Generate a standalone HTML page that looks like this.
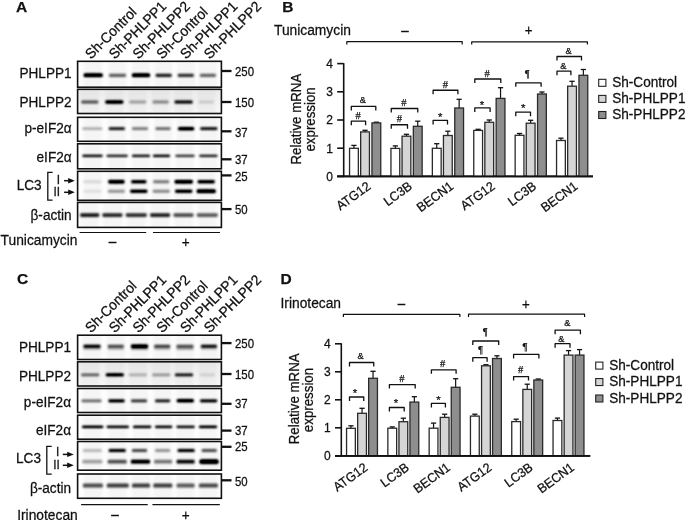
<!DOCTYPE html><html><head><meta charset="utf-8"><style>html,body{margin:0;padding:0;background:#fff;width:685px;height:520px;overflow:hidden}svg{display:block;filter:blur(0.35px)}</style></head><body><svg width="685" height="520" viewBox="0 0 685 520">
<defs><filter id="blur" x="-20%" y="-200%" width="140%" height="500%"><feGaussianBlur stdDeviation="1.2 0.8"/><feComponentTransfer><feFuncA type="linear" slope="1.3"/></feComponentTransfer></filter><filter id="blur2" x="-20%" y="-20%" width="140%" height="140%"><feGaussianBlur stdDeviation="1.5"/></filter><linearGradient id="g2" x1="0" y1="0" x2="0" y2="1"><stop offset="0" stop-color="#e6e6e6"/><stop offset="0.5" stop-color="#eeeeee"/><stop offset="1" stop-color="#f6f6f6"/></linearGradient><linearGradient id="g3" x1="0" y1="0" x2="0" y2="1"><stop offset="0" stop-color="#ebebeb"/><stop offset="0.5" stop-color="#f2f2f2"/><stop offset="1" stop-color="#f8f8f8"/></linearGradient></defs>
<rect width="685" height="520" fill="#fff"/>
<text transform="translate(16.00 11.90)" font-size="15.5" text-anchor="start" font-weight="bold" font-family='"Liberation Sans", sans-serif' fill="#111" stroke="#111" stroke-width="0.25">A</text>
<text transform="translate(90.90 59.80) rotate(-45) scale(1 1.042)" font-size="13.8" text-anchor="start" font-weight="normal" font-family='"Liberation Sans", sans-serif' fill="#111" stroke="#111" stroke-width="0.25">Sh-Control</text>
<text transform="translate(114.65 59.80) rotate(-45) scale(1 1.042)" font-size="13.8" text-anchor="start" font-weight="normal" font-family='"Liberation Sans", sans-serif' fill="#111" stroke="#111" stroke-width="0.25">Sh-PHLPP1</text>
<text transform="translate(138.40 59.80) rotate(-45) scale(1 1.042)" font-size="13.8" text-anchor="start" font-weight="normal" font-family='"Liberation Sans", sans-serif' fill="#111" stroke="#111" stroke-width="0.25">Sh-PHLPP2</text>
<text transform="translate(162.15 59.80) rotate(-45) scale(1 1.042)" font-size="13.8" text-anchor="start" font-weight="normal" font-family='"Liberation Sans", sans-serif' fill="#111" stroke="#111" stroke-width="0.25">Sh-Control</text>
<text transform="translate(185.90 59.80) rotate(-45) scale(1 1.042)" font-size="13.8" text-anchor="start" font-weight="normal" font-family='"Liberation Sans", sans-serif' fill="#111" stroke="#111" stroke-width="0.25">Sh-PHLPP1</text>
<text transform="translate(209.65 59.80) rotate(-45) scale(1 1.042)" font-size="13.8" text-anchor="start" font-weight="normal" font-family='"Liberation Sans", sans-serif' fill="#111" stroke="#111" stroke-width="0.25">Sh-PHLPP2</text>
<clipPath id="c1"><rect x="77.60" y="61.30" width="143.80" height="25.90"/></clipPath>
<g clip-path="url(#c1)">
<rect x="77.6" y="61.3" width="143.8" height="25.900000000000006" fill="#fdfdfd"/>
<g filter="url(#blur2)">
<rect x="84.20" y="59.30" width="18" height="29.90" fill="#000" fill-opacity="0.03"/>
<rect x="108.50" y="59.30" width="18" height="29.90" fill="#000" fill-opacity="0.03"/>
<rect x="132.00" y="59.30" width="18" height="29.90" fill="#000" fill-opacity="0.03"/>
<rect x="154.70" y="59.30" width="18" height="29.90" fill="#000" fill-opacity="0.03"/>
<rect x="176.80" y="59.30" width="18" height="29.90" fill="#000" fill-opacity="0.03"/>
<rect x="198.90" y="59.30" width="18" height="29.90" fill="#000" fill-opacity="0.03"/>
</g>
<g filter="url(#blur)">
<rect x="83.70" y="73.53" width="10.64" height="3.55" rx="1.24" fill="#000"/>
<rect x="92.06" y="73.53" width="10.64" height="3.55" rx="1.24" fill="#000"/>
<rect x="84.70" y="73.84" width="17.00" height="2.91" rx="0.87" fill="#000"/>
<rect x="109.00" y="73.72" width="17.00" height="3.17" rx="0.95" fill="#000" fill-opacity="0.50"/>
<rect x="132.00" y="73.53" width="10.08" height="3.55" rx="1.24" fill="#000"/>
<rect x="139.92" y="73.53" width="10.08" height="3.55" rx="1.24" fill="#000"/>
<rect x="133.00" y="73.84" width="16.00" height="2.91" rx="0.87" fill="#000"/>
<rect x="155.70" y="73.72" width="16.00" height="3.17" rx="0.95" fill="#000" fill-opacity="0.72"/>
<rect x="177.80" y="73.72" width="16.00" height="3.17" rx="0.95" fill="#000" fill-opacity="0.66"/>
<rect x="199.90" y="73.72" width="16.00" height="3.17" rx="0.95" fill="#000" fill-opacity="0.48"/>
</g></g>
<rect x="77.60" y="61.30" width="143.80" height="25.90" fill="none" stroke="#111" stroke-width="1.6"/>
<text transform="translate(71.60 77.60) scale(1 1.042)" font-size="13.6" text-anchor="end" font-weight="normal" font-family='"Liberation Sans", sans-serif' fill="#111" stroke="#111" stroke-width="0.25">PHLPP1</text>
<line x1="221.40" y1="71.00" x2="231.50" y2="71.00" stroke="#111" stroke-width="2.3"/>
<text transform="translate(235.00 75.60) scale(1 1.042)" font-size="11.4" text-anchor="start" font-weight="normal" font-family='"Liberation Sans", sans-serif' fill="#111" stroke="#111" stroke-width="0.25">250</text>
<clipPath id="c2"><rect x="77.60" y="89.30" width="143.80" height="24.20"/></clipPath>
<g clip-path="url(#c2)">
<rect x="77.6" y="89.3" width="143.8" height="24.200000000000003" fill="url(#g3)"/>
<g filter="url(#blur2)">
<rect x="80.80" y="87.30" width="18" height="28.20" fill="#000" fill-opacity="0.03"/>
<rect x="105.30" y="87.30" width="18" height="28.20" fill="#000" fill-opacity="0.03"/>
<rect x="128.70" y="87.30" width="18" height="28.20" fill="#000" fill-opacity="0.03"/>
<rect x="151.60" y="87.30" width="18" height="28.20" fill="#000" fill-opacity="0.03"/>
<rect x="174.60" y="87.30" width="18" height="28.20" fill="#000" fill-opacity="0.03"/>
<rect x="197.30" y="87.30" width="18" height="28.20" fill="#000" fill-opacity="0.03"/>
</g>
<g filter="url(#blur)">
<rect x="81.30" y="100.56" width="17.00" height="2.88" rx="0.86" fill="#000" fill-opacity="0.55"/>
<rect x="105.30" y="100.39" width="10.08" height="3.23" rx="1.13" fill="#000"/>
<rect x="113.22" y="100.39" width="10.08" height="3.23" rx="1.13" fill="#000"/>
<rect x="106.30" y="100.68" width="16.00" height="2.65" rx="0.79" fill="#000"/>
<rect x="129.20" y="100.56" width="17.00" height="2.88" rx="0.86" fill="#000" fill-opacity="0.27"/>
<rect x="152.60" y="100.56" width="16.00" height="2.88" rx="0.86" fill="#000" fill-opacity="0.36"/>
<rect x="174.60" y="100.56" width="18.00" height="2.88" rx="0.86" fill="#000" fill-opacity="0.85"/>
<rect x="198.80" y="100.56" width="15.00" height="2.88" rx="0.86" fill="#000" fill-opacity="0.12"/>
</g></g>
<rect x="77.60" y="89.30" width="143.80" height="24.20" fill="none" stroke="#111" stroke-width="1.6"/>
<text transform="translate(71.60 107.20) scale(1 1.042)" font-size="13.6" text-anchor="end" font-weight="normal" font-family='"Liberation Sans", sans-serif' fill="#111" stroke="#111" stroke-width="0.25">PHLPP2</text>
<line x1="221.40" y1="102.00" x2="231.50" y2="102.00" stroke="#111" stroke-width="2.3"/>
<text transform="translate(235.00 106.60) scale(1 1.042)" font-size="11.4" text-anchor="start" font-weight="normal" font-family='"Liberation Sans", sans-serif' fill="#111" stroke="#111" stroke-width="0.25">150</text>
<clipPath id="c3"><rect x="77.60" y="117.30" width="143.80" height="24.00"/></clipPath>
<g clip-path="url(#c3)">
<rect x="77.6" y="117.3" width="143.8" height="24.000000000000014" fill="#fdfdfd"/>
<g filter="url(#blur2)">
<rect x="83.30" y="115.30" width="18" height="28.00" fill="#000" fill-opacity="0.03"/>
<rect x="107.80" y="115.30" width="18" height="28.00" fill="#000" fill-opacity="0.03"/>
<rect x="131.00" y="115.30" width="18" height="28.00" fill="#000" fill-opacity="0.03"/>
<rect x="154.00" y="115.30" width="18" height="28.00" fill="#000" fill-opacity="0.03"/>
<rect x="177.10" y="115.30" width="18" height="28.00" fill="#000" fill-opacity="0.03"/>
<rect x="199.80" y="115.30" width="18" height="28.00" fill="#000" fill-opacity="0.03"/>
</g>
<g filter="url(#blur)">
<rect x="82.30" y="127.33" width="20.00" height="2.74" rx="0.82" fill="#000" fill-opacity="0.24"/>
<rect x="108.80" y="127.33" width="16.00" height="2.74" rx="0.82" fill="#000" fill-opacity="0.78"/>
<rect x="132.00" y="127.33" width="16.00" height="2.74" rx="0.82" fill="#000" fill-opacity="0.42"/>
<rect x="155.50" y="127.33" width="15.00" height="2.74" rx="0.82" fill="#000" fill-opacity="0.48"/>
<rect x="178.10" y="127.17" width="8.96" height="3.06" rx="1.07" fill="#000"/>
<rect x="185.14" y="127.17" width="8.96" height="3.06" rx="1.07" fill="#000"/>
<rect x="179.10" y="127.44" width="14.00" height="2.52" rx="0.76" fill="#000"/>
<rect x="200.30" y="127.33" width="17.00" height="2.74" rx="0.82" fill="#000" fill-opacity="0.82"/>
</g></g>
<rect x="77.60" y="117.30" width="143.80" height="24.00" fill="none" stroke="#111" stroke-width="1.6"/>
<text transform="translate(71.60 132.80) scale(1 1.042)" font-size="13.6" text-anchor="end" font-weight="normal" font-family='"Liberation Sans", sans-serif' fill="#111" stroke="#111" stroke-width="0.25">p-eIF2α</text>
<line x1="221.40" y1="131.30" x2="231.50" y2="131.30" stroke="#111" stroke-width="2.3"/>
<text transform="translate(235.00 136.60) scale(1 1.042)" font-size="11.4" text-anchor="start" font-weight="normal" font-family='"Liberation Sans", sans-serif' fill="#111" stroke="#111" stroke-width="0.25">37</text>
<clipPath id="c4"><rect x="77.60" y="143.80" width="143.80" height="25.00"/></clipPath>
<g clip-path="url(#c4)">
<rect x="77.6" y="143.8" width="143.8" height="25.0" fill="#fdfdfd"/>
<g filter="url(#blur2)">
<rect x="83.50" y="141.80" width="18" height="29.00" fill="#000" fill-opacity="0.03"/>
<rect x="108.20" y="141.80" width="18" height="29.00" fill="#000" fill-opacity="0.03"/>
<rect x="132.00" y="141.80" width="18" height="29.00" fill="#000" fill-opacity="0.03"/>
<rect x="152.50" y="141.80" width="18" height="29.00" fill="#000" fill-opacity="0.03"/>
<rect x="176.00" y="141.80" width="18" height="29.00" fill="#000" fill-opacity="0.03"/>
<rect x="199.40" y="141.80" width="18" height="29.00" fill="#000" fill-opacity="0.03"/>
</g>
<g filter="url(#blur)">
<rect x="82.50" y="154.65" width="20.00" height="2.30" rx="0.69" fill="#000" fill-opacity="0.85"/>
<rect x="106.70" y="154.65" width="21.00" height="2.30" rx="0.69" fill="#000" fill-opacity="0.76"/>
<rect x="132.00" y="154.65" width="18.00" height="2.30" rx="0.69" fill="#000" fill-opacity="0.82"/>
<rect x="153.00" y="154.65" width="17.00" height="2.30" rx="0.69" fill="#000" fill-opacity="0.88"/>
<rect x="175.50" y="154.65" width="19.00" height="2.30" rx="0.69" fill="#000" fill-opacity="0.68"/>
<rect x="199.40" y="154.65" width="18.00" height="2.30" rx="0.69" fill="#000" fill-opacity="0.76"/>
</g></g>
<rect x="77.60" y="143.80" width="143.80" height="25.00" fill="none" stroke="#111" stroke-width="1.6"/>
<text transform="translate(71.60 161.60) scale(1 1.042)" font-size="13.6" text-anchor="end" font-weight="normal" font-family='"Liberation Sans", sans-serif' fill="#111" stroke="#111" stroke-width="0.25">eIF2α</text>
<line x1="221.40" y1="159.30" x2="231.50" y2="159.30" stroke="#111" stroke-width="2.3"/>
<text transform="translate(235.00 163.90) scale(1 1.042)" font-size="11.4" text-anchor="start" font-weight="normal" font-family='"Liberation Sans", sans-serif' fill="#111" stroke="#111" stroke-width="0.25">37</text>
<clipPath id="c5"><rect x="77.60" y="171.30" width="143.80" height="29.00"/></clipPath>
<g clip-path="url(#c5)">
<rect x="77.6" y="171.3" width="143.8" height="29.0" fill="#fdfdfd"/>
<g filter="url(#blur2)">
<rect x="83.50" y="169.30" width="18" height="33.00" fill="#000" fill-opacity="0.03"/>
<rect x="107.40" y="169.30" width="18" height="33.00" fill="#000" fill-opacity="0.03"/>
<rect x="129.80" y="169.30" width="18" height="33.00" fill="#000" fill-opacity="0.03"/>
<rect x="152.20" y="169.30" width="18" height="33.00" fill="#000" fill-opacity="0.03"/>
<rect x="174.70" y="169.30" width="18" height="33.00" fill="#000" fill-opacity="0.03"/>
<rect x="197.20" y="169.30" width="18" height="33.00" fill="#000" fill-opacity="0.03"/>
</g>
<g filter="url(#blur)">
<rect x="83.50" y="180.19" width="18.00" height="3.02" rx="0.91" fill="#000" fill-opacity="0.10"/>
<rect x="108.40" y="180.01" width="8.96" height="3.39" rx="1.19" fill="#000"/>
<rect x="115.44" y="180.01" width="8.96" height="3.39" rx="1.19" fill="#000"/>
<rect x="109.40" y="180.31" width="14.00" height="2.78" rx="0.83" fill="#000"/>
<rect x="131.30" y="180.19" width="15.00" height="3.02" rx="0.91" fill="#000" fill-opacity="0.96"/>
<rect x="153.20" y="180.19" width="16.00" height="3.02" rx="0.91" fill="#000" fill-opacity="0.42"/>
<rect x="174.70" y="180.01" width="10.08" height="3.39" rx="1.19" fill="#000"/>
<rect x="182.62" y="180.01" width="10.08" height="3.39" rx="1.19" fill="#000"/>
<rect x="175.70" y="180.31" width="16.00" height="2.78" rx="0.83" fill="#000"/>
<rect x="197.70" y="180.19" width="17.00" height="3.02" rx="0.91" fill="#000" fill-opacity="0.98"/>
<rect x="83.50" y="189.69" width="18.00" height="3.02" rx="0.91" fill="#000" fill-opacity="0.08"/>
<rect x="107.90" y="189.69" width="17.00" height="3.02" rx="0.91" fill="#000" fill-opacity="0.32"/>
<rect x="130.30" y="189.69" width="17.00" height="3.02" rx="0.91" fill="#000" fill-opacity="0.98"/>
<rect x="152.70" y="189.69" width="17.00" height="3.02" rx="0.91" fill="#000" fill-opacity="0.37"/>
<rect x="175.20" y="189.69" width="17.00" height="3.02" rx="0.91" fill="#000" fill-opacity="0.98"/>
<rect x="196.70" y="189.51" width="10.64" height="3.39" rx="1.19" fill="#000"/>
<rect x="205.06" y="189.51" width="10.64" height="3.39" rx="1.19" fill="#000"/>
<rect x="197.70" y="189.81" width="17.00" height="2.78" rx="0.83" fill="#000"/>
</g></g>
<rect x="77.60" y="171.30" width="143.80" height="29.00" fill="none" stroke="#111" stroke-width="1.6"/>
<line x1="221.40" y1="175.40" x2="231.50" y2="175.40" stroke="#111" stroke-width="2.3"/>
<text transform="translate(235.00 180.90) scale(1 1.042)" font-size="11.4" text-anchor="start" font-weight="normal" font-family='"Liberation Sans", sans-serif' fill="#111" stroke="#111" stroke-width="0.25">25</text>
<clipPath id="c6"><rect x="77.60" y="202.40" width="143.80" height="25.00"/></clipPath>
<g clip-path="url(#c6)">
<rect x="77.6" y="202.4" width="143.8" height="25.0" fill="#fdfdfd"/>
<g filter="url(#blur2)">
<rect x="80.70" y="200.40" width="18" height="29.00" fill="#000" fill-opacity="0.03"/>
<rect x="103.40" y="200.40" width="18" height="29.00" fill="#000" fill-opacity="0.03"/>
<rect x="127.30" y="200.40" width="18" height="29.00" fill="#000" fill-opacity="0.03"/>
<rect x="151.10" y="200.40" width="18" height="29.00" fill="#000" fill-opacity="0.03"/>
<rect x="174.50" y="200.40" width="18" height="29.00" fill="#000" fill-opacity="0.03"/>
<rect x="198.30" y="200.40" width="18" height="29.00" fill="#000" fill-opacity="0.03"/>
</g>
<g filter="url(#blur)">
<rect x="80.20" y="213.23" width="19.00" height="3.74" rx="1.12" fill="#000" fill-opacity="0.72"/>
<rect x="102.40" y="213.23" width="20.00" height="3.74" rx="1.12" fill="#000" fill-opacity="0.68"/>
<rect x="125.80" y="213.23" width="21.00" height="3.74" rx="1.12" fill="#000" fill-opacity="0.65"/>
<rect x="150.10" y="213.23" width="20.00" height="3.74" rx="1.12" fill="#000" fill-opacity="0.70"/>
<rect x="173.50" y="213.23" width="20.00" height="3.74" rx="1.12" fill="#000" fill-opacity="0.55"/>
<rect x="196.80" y="213.23" width="21.00" height="3.74" rx="1.12" fill="#000" fill-opacity="0.50"/>
</g></g>
<rect x="77.60" y="202.40" width="143.80" height="25.00" fill="none" stroke="#111" stroke-width="1.6"/>
<text transform="translate(71.60 219.60) scale(1 1.042)" font-size="13.6" text-anchor="end" font-weight="normal" font-family='"Liberation Sans", sans-serif' fill="#111" stroke="#111" stroke-width="0.25">β-actin</text>
<line x1="221.40" y1="209.10" x2="231.50" y2="209.10" stroke="#111" stroke-width="2.3"/>
<text transform="translate(235.00 213.70) scale(1 1.042)" font-size="11.4" text-anchor="start" font-weight="normal" font-family='"Liberation Sans", sans-serif' fill="#111" stroke="#111" stroke-width="0.25">50</text>
<line x1="79.60" y1="232.50" x2="146.20" y2="232.50" stroke="#111" stroke-width="1.2"/>
<line x1="153.00" y1="232.50" x2="220.00" y2="232.50" stroke="#111" stroke-width="1.2"/>
<text transform="translate(0.60 244.60) scale(1 1.042)" font-size="13.8" text-anchor="start" font-weight="normal" font-family='"Liberation Sans", sans-serif' fill="#111" stroke="#111" stroke-width="0.25">Tunicamycin</text>
<text transform="translate(112.60 245.70) scale(1 1.042)" font-size="13.6" text-anchor="middle" font-weight="normal" font-family='"Liberation Sans", sans-serif' fill="#111" stroke="#111" stroke-width="0.25">–</text>
<text transform="translate(185.80 247.00) scale(1 1.042)" font-size="13.6" text-anchor="middle" font-weight="normal" font-family='"Liberation Sans", sans-serif' fill="#111" stroke="#111" stroke-width="0.25">+</text>
<text transform="translate(41.60 189.80) scale(1 1.042)" font-size="13.6" text-anchor="end" font-weight="normal" font-family='"Liberation Sans", sans-serif' fill="#111" stroke="#111" stroke-width="0.25">LC3</text>
<path d="M52.6 172.40 H47.8 V200.20 H52.6" fill="none" stroke="#111" stroke-width="1.3"/>
<text transform="translate(58.50 183.50) scale(1 1.042)" font-size="11.8" text-anchor="middle" font-weight="normal" font-family='"Liberation Sans", sans-serif' fill="#111" stroke="#111" stroke-width="0.25">I</text>
<text transform="translate(56.70 195.90) scale(1 1.042)" font-size="11.8" text-anchor="middle" font-weight="normal" font-family='"Liberation Sans", sans-serif' fill="#111" stroke="#111" stroke-width="0.25">II</text>
<line x1="64.10" y1="180.70" x2="69.50" y2="180.70" stroke="#111" stroke-width="1.5"/>
<path d="M68.2 178.00 L74.8 180.70 L68.2 183.40 Z" fill="#111"/>
<line x1="64.10" y1="192.30" x2="69.50" y2="192.30" stroke="#111" stroke-width="1.5"/>
<path d="M68.2 189.60 L74.8 192.30 L68.2 195.00 Z" fill="#111"/>
<text transform="translate(17.00 283.90)" font-size="15.5" text-anchor="start" font-weight="bold" font-family='"Liberation Sans", sans-serif' fill="#111" stroke="#111" stroke-width="0.25">C</text>
<text transform="translate(90.90 333.40) rotate(-45) scale(1 1.042)" font-size="13.8" text-anchor="start" font-weight="normal" font-family='"Liberation Sans", sans-serif' fill="#111" stroke="#111" stroke-width="0.25">Sh-Control</text>
<text transform="translate(114.65 333.40) rotate(-45) scale(1 1.042)" font-size="13.8" text-anchor="start" font-weight="normal" font-family='"Liberation Sans", sans-serif' fill="#111" stroke="#111" stroke-width="0.25">Sh-PHLPP1</text>
<text transform="translate(138.40 333.40) rotate(-45) scale(1 1.042)" font-size="13.8" text-anchor="start" font-weight="normal" font-family='"Liberation Sans", sans-serif' fill="#111" stroke="#111" stroke-width="0.25">Sh-PHLPP2</text>
<text transform="translate(162.15 333.40) rotate(-45) scale(1 1.042)" font-size="13.8" text-anchor="start" font-weight="normal" font-family='"Liberation Sans", sans-serif' fill="#111" stroke="#111" stroke-width="0.25">Sh-Control</text>
<text transform="translate(185.90 333.40) rotate(-45) scale(1 1.042)" font-size="13.8" text-anchor="start" font-weight="normal" font-family='"Liberation Sans", sans-serif' fill="#111" stroke="#111" stroke-width="0.25">Sh-PHLPP1</text>
<text transform="translate(209.65 333.40) rotate(-45) scale(1 1.042)" font-size="13.8" text-anchor="start" font-weight="normal" font-family='"Liberation Sans", sans-serif' fill="#111" stroke="#111" stroke-width="0.25">Sh-PHLPP2</text>
<clipPath id="c7"><rect x="77.60" y="335.20" width="143.80" height="24.30"/></clipPath>
<g clip-path="url(#c7)">
<rect x="77.6" y="335.2" width="143.8" height="24.30000000000001" fill="#fdfdfd"/>
<g filter="url(#blur2)">
<rect x="83.00" y="333.20" width="18" height="28.30" fill="#000" fill-opacity="0.03"/>
<rect x="106.80" y="333.20" width="18" height="28.30" fill="#000" fill-opacity="0.03"/>
<rect x="130.50" y="333.20" width="18" height="28.30" fill="#000" fill-opacity="0.03"/>
<rect x="153.20" y="333.20" width="18" height="28.30" fill="#000" fill-opacity="0.03"/>
<rect x="176.00" y="333.20" width="18" height="28.30" fill="#000" fill-opacity="0.03"/>
<rect x="199.90" y="333.20" width="18" height="28.30" fill="#000" fill-opacity="0.03"/>
</g>
<g filter="url(#blur)">
<rect x="83.50" y="344.79" width="17.00" height="3.02" rx="0.91" fill="#000" fill-opacity="0.88"/>
<rect x="107.80" y="344.79" width="16.00" height="3.02" rx="0.91" fill="#000" fill-opacity="0.58"/>
<rect x="131.00" y="344.61" width="9.52" height="3.39" rx="1.19" fill="#000"/>
<rect x="138.48" y="344.61" width="9.52" height="3.39" rx="1.19" fill="#000"/>
<rect x="132.00" y="344.91" width="15.00" height="2.78" rx="0.83" fill="#000"/>
<rect x="154.20" y="344.79" width="16.00" height="3.02" rx="0.91" fill="#000" fill-opacity="0.62"/>
<rect x="176.50" y="344.79" width="17.00" height="3.02" rx="0.91" fill="#000" fill-opacity="0.57"/>
<rect x="200.90" y="344.79" width="16.00" height="3.02" rx="0.91" fill="#000" fill-opacity="0.82"/>
<rect x="83.50" y="347.58" width="17.00" height="2.45" rx="0.73" fill="#000" fill-opacity="0.20"/>
<rect x="107.80" y="347.58" width="16.00" height="2.45" rx="0.73" fill="#000" fill-opacity="0.20"/>
<rect x="131.00" y="347.58" width="17.00" height="2.45" rx="0.73" fill="#000" fill-opacity="0.28"/>
<rect x="154.20" y="347.58" width="16.00" height="2.45" rx="0.73" fill="#000" fill-opacity="0.20"/>
<rect x="176.50" y="347.58" width="17.00" height="2.45" rx="0.73" fill="#000" fill-opacity="0.25"/>
<rect x="200.90" y="347.58" width="16.00" height="2.45" rx="0.73" fill="#000" fill-opacity="0.15"/>
</g></g>
<rect x="77.60" y="335.20" width="143.80" height="24.30" fill="none" stroke="#111" stroke-width="1.6"/>
<text transform="translate(71.00 351.70) scale(1 1.042)" font-size="13.6" text-anchor="end" font-weight="normal" font-family='"Liberation Sans", sans-serif' fill="#111" stroke="#111" stroke-width="0.25">PHLPP1</text>
<line x1="221.40" y1="343.10" x2="231.50" y2="343.10" stroke="#111" stroke-width="2.3"/>
<text transform="translate(235.00 347.70) scale(1 1.042)" font-size="11.4" text-anchor="start" font-weight="normal" font-family='"Liberation Sans", sans-serif' fill="#111" stroke="#111" stroke-width="0.25">250</text>
<clipPath id="c8"><rect x="77.60" y="361.80" width="143.80" height="24.20"/></clipPath>
<g clip-path="url(#c8)">
<rect x="77.6" y="361.8" width="143.8" height="24.19999999999999" fill="url(#g3)"/>
<g filter="url(#blur2)">
<rect x="81.20" y="359.80" width="18" height="28.20" fill="#000" fill-opacity="0.03"/>
<rect x="105.80" y="359.80" width="18" height="28.20" fill="#000" fill-opacity="0.03"/>
<rect x="128.90" y="359.80" width="18" height="28.20" fill="#000" fill-opacity="0.03"/>
<rect x="152.20" y="359.80" width="18" height="28.20" fill="#000" fill-opacity="0.03"/>
<rect x="175.00" y="359.80" width="18" height="28.20" fill="#000" fill-opacity="0.03"/>
<rect x="198.30" y="359.80" width="18" height="28.20" fill="#000" fill-opacity="0.03"/>
</g>
<g filter="url(#blur)">
<rect x="81.20" y="373.60" width="18.00" height="2.59" rx="0.78" fill="#000" fill-opacity="0.50"/>
<rect x="105.80" y="373.45" width="10.08" height="2.90" rx="1.02" fill="#000"/>
<rect x="113.72" y="373.45" width="10.08" height="2.90" rx="1.02" fill="#000"/>
<rect x="106.80" y="373.71" width="16.00" height="2.38" rx="0.72" fill="#000"/>
<rect x="128.90" y="373.60" width="18.00" height="2.59" rx="0.78" fill="#000" fill-opacity="0.22"/>
<rect x="152.20" y="373.60" width="18.00" height="2.59" rx="0.78" fill="#000" fill-opacity="0.30"/>
<rect x="175.00" y="373.60" width="18.00" height="2.59" rx="0.78" fill="#000" fill-opacity="0.80"/>
<rect x="199.80" y="373.60" width="15.00" height="2.59" rx="0.78" fill="#000" fill-opacity="0.10"/>
</g></g>
<rect x="77.60" y="361.80" width="143.80" height="24.20" fill="none" stroke="#111" stroke-width="1.6"/>
<text transform="translate(71.00 381.40) scale(1 1.042)" font-size="13.6" text-anchor="end" font-weight="normal" font-family='"Liberation Sans", sans-serif' fill="#111" stroke="#111" stroke-width="0.25">PHLPP2</text>
<line x1="221.40" y1="374.00" x2="231.50" y2="374.00" stroke="#111" stroke-width="2.3"/>
<text transform="translate(235.00 378.60) scale(1 1.042)" font-size="11.4" text-anchor="start" font-weight="normal" font-family='"Liberation Sans", sans-serif' fill="#111" stroke="#111" stroke-width="0.25">150</text>
<clipPath id="c9"><rect x="77.60" y="388.50" width="143.80" height="24.00"/></clipPath>
<g clip-path="url(#c9)">
<rect x="77.6" y="388.5" width="143.8" height="24.0" fill="#fdfdfd"/>
<g filter="url(#blur2)">
<rect x="82.50" y="386.50" width="18" height="28.00" fill="#000" fill-opacity="0.03"/>
<rect x="107.50" y="386.50" width="18" height="28.00" fill="#000" fill-opacity="0.03"/>
<rect x="130.00" y="386.50" width="18" height="28.00" fill="#000" fill-opacity="0.03"/>
<rect x="153.60" y="386.50" width="18" height="28.00" fill="#000" fill-opacity="0.03"/>
<rect x="176.30" y="386.50" width="18" height="28.00" fill="#000" fill-opacity="0.03"/>
<rect x="199.60" y="386.50" width="18" height="28.00" fill="#000" fill-opacity="0.03"/>
</g>
<g filter="url(#blur)">
<rect x="81.50" y="399.43" width="20.00" height="2.74" rx="0.82" fill="#000" fill-opacity="0.48"/>
<rect x="108.50" y="399.43" width="16.00" height="2.74" rx="0.82" fill="#000" fill-opacity="0.98"/>
<rect x="131.00" y="399.43" width="16.00" height="2.74" rx="0.82" fill="#000" fill-opacity="0.68"/>
<rect x="155.10" y="399.43" width="15.00" height="2.74" rx="0.82" fill="#000" fill-opacity="0.78"/>
<rect x="176.80" y="399.27" width="9.52" height="3.06" rx="1.07" fill="#000"/>
<rect x="184.28" y="399.27" width="9.52" height="3.06" rx="1.07" fill="#000"/>
<rect x="177.80" y="399.54" width="15.00" height="2.52" rx="0.76" fill="#000"/>
<rect x="200.10" y="399.43" width="17.00" height="2.74" rx="0.82" fill="#000" fill-opacity="0.92"/>
</g></g>
<rect x="77.60" y="388.50" width="143.80" height="24.00" fill="none" stroke="#111" stroke-width="1.6"/>
<text transform="translate(71.00 406.50) scale(1 1.042)" font-size="13.6" text-anchor="end" font-weight="normal" font-family='"Liberation Sans", sans-serif' fill="#111" stroke="#111" stroke-width="0.25">p-eIF2α</text>
<line x1="221.40" y1="403.80" x2="231.50" y2="403.80" stroke="#111" stroke-width="2.3"/>
<text transform="translate(235.00 408.40) scale(1 1.042)" font-size="11.4" text-anchor="start" font-weight="normal" font-family='"Liberation Sans", sans-serif' fill="#111" stroke="#111" stroke-width="0.25">37</text>
<clipPath id="c10"><rect x="77.60" y="415.20" width="143.80" height="24.00"/></clipPath>
<g clip-path="url(#c10)">
<rect x="77.6" y="415.2" width="143.8" height="24.0" fill="#fdfdfd"/>
<g filter="url(#blur2)">
<rect x="83.60" y="413.20" width="18" height="28.00" fill="#000" fill-opacity="0.03"/>
<rect x="108.80" y="413.20" width="18" height="28.00" fill="#000" fill-opacity="0.03"/>
<rect x="133.10" y="413.20" width="18" height="28.00" fill="#000" fill-opacity="0.03"/>
<rect x="154.60" y="413.20" width="18" height="28.00" fill="#000" fill-opacity="0.03"/>
<rect x="176.60" y="413.20" width="18" height="28.00" fill="#000" fill-opacity="0.03"/>
<rect x="199.00" y="413.20" width="18" height="28.00" fill="#000" fill-opacity="0.03"/>
</g>
<g filter="url(#blur)">
<rect x="82.10" y="425.65" width="21.00" height="2.30" rx="0.69" fill="#000" fill-opacity="0.98"/>
<rect x="106.80" y="425.65" width="22.00" height="2.30" rx="0.69" fill="#000" fill-opacity="0.92"/>
<rect x="133.10" y="425.65" width="18.00" height="2.30" rx="0.69" fill="#000" fill-opacity="0.92"/>
<rect x="155.10" y="425.65" width="17.00" height="2.30" rx="0.69" fill="#000" fill-opacity="0.92"/>
<rect x="176.60" y="425.65" width="18.00" height="2.30" rx="0.69" fill="#000" fill-opacity="0.88"/>
<rect x="199.00" y="425.65" width="18.00" height="2.30" rx="0.69" fill="#000" fill-opacity="0.98"/>
</g></g>
<rect x="77.60" y="415.20" width="143.80" height="24.00" fill="none" stroke="#111" stroke-width="1.6"/>
<text transform="translate(71.00 434.80) scale(1 1.042)" font-size="13.6" text-anchor="end" font-weight="normal" font-family='"Liberation Sans", sans-serif' fill="#111" stroke="#111" stroke-width="0.25">eIF2α</text>
<line x1="221.40" y1="430.60" x2="231.50" y2="430.60" stroke="#111" stroke-width="2.3"/>
<text transform="translate(235.00 435.30) scale(1 1.042)" font-size="11.4" text-anchor="start" font-weight="normal" font-family='"Liberation Sans", sans-serif' fill="#111" stroke="#111" stroke-width="0.25">37</text>
<clipPath id="c11"><rect x="77.60" y="441.50" width="143.80" height="28.70"/></clipPath>
<g clip-path="url(#c11)">
<rect x="77.6" y="441.5" width="143.8" height="28.69999999999999" fill="#fdfdfd"/>
<g filter="url(#blur2)">
<rect x="83.30" y="439.50" width="18" height="32.70" fill="#000" fill-opacity="0.03"/>
<rect x="108.20" y="439.50" width="18" height="32.70" fill="#000" fill-opacity="0.03"/>
<rect x="130.50" y="439.50" width="18" height="32.70" fill="#000" fill-opacity="0.03"/>
<rect x="153.60" y="439.50" width="18" height="32.70" fill="#000" fill-opacity="0.03"/>
<rect x="177.10" y="439.50" width="18" height="32.70" fill="#000" fill-opacity="0.03"/>
<rect x="200.20" y="439.50" width="18" height="32.70" fill="#000" fill-opacity="0.03"/>
</g>
<g filter="url(#blur)">
<rect x="82.80" y="449.09" width="19.00" height="3.02" rx="0.91" fill="#000" fill-opacity="0.20"/>
<rect x="108.70" y="449.09" width="17.00" height="3.02" rx="0.91" fill="#000" fill-opacity="0.85"/>
<rect x="132.00" y="449.09" width="15.00" height="3.02" rx="0.91" fill="#000" fill-opacity="0.58"/>
<rect x="155.10" y="449.09" width="15.00" height="3.02" rx="0.91" fill="#000" fill-opacity="0.32"/>
<rect x="177.60" y="449.09" width="17.00" height="3.02" rx="0.91" fill="#000" fill-opacity="0.85"/>
<rect x="201.70" y="449.09" width="15.00" height="3.02" rx="0.91" fill="#000" fill-opacity="0.56"/>
<rect x="82.30" y="459.66" width="20.00" height="3.89" rx="1.17" fill="#000" fill-opacity="0.28"/>
<rect x="107.70" y="459.66" width="19.00" height="3.89" rx="1.17" fill="#000" fill-opacity="0.55"/>
<rect x="131.00" y="459.66" width="19.00" height="3.89" rx="1.17" fill="#000" fill-opacity="0.92"/>
<rect x="154.10" y="459.66" width="18.00" height="3.89" rx="1.17" fill="#000" fill-opacity="0.42"/>
<rect x="176.60" y="459.66" width="18.00" height="3.89" rx="1.17" fill="#000" fill-opacity="0.80"/>
<rect x="199.50" y="459.42" width="10.64" height="4.35" rx="1.52" fill="#000"/>
<rect x="207.86" y="459.42" width="10.64" height="4.35" rx="1.52" fill="#000"/>
<rect x="200.50" y="459.81" width="17.00" height="3.58" rx="1.07" fill="#000"/>
</g></g>
<rect x="77.60" y="441.50" width="143.80" height="28.70" fill="none" stroke="#111" stroke-width="1.6"/>
<line x1="221.40" y1="446.80" x2="231.50" y2="446.80" stroke="#111" stroke-width="2.3"/>
<text transform="translate(235.00 451.40) scale(1 1.042)" font-size="11.4" text-anchor="start" font-weight="normal" font-family='"Liberation Sans", sans-serif' fill="#111" stroke="#111" stroke-width="0.25">25</text>
<clipPath id="c12"><rect x="77.60" y="474.00" width="143.80" height="24.30"/></clipPath>
<g clip-path="url(#c12)">
<rect x="77.6" y="474.0" width="143.8" height="24.30000000000001" fill="#fdfdfd"/>
<g filter="url(#blur2)">
<rect x="83.90" y="472.00" width="18" height="28.30" fill="#000" fill-opacity="0.03"/>
<rect x="108.80" y="472.00" width="18" height="28.30" fill="#000" fill-opacity="0.03"/>
<rect x="132.00" y="472.00" width="18" height="28.30" fill="#000" fill-opacity="0.03"/>
<rect x="153.80" y="472.00" width="18" height="28.30" fill="#000" fill-opacity="0.03"/>
<rect x="176.60" y="472.00" width="18" height="28.30" fill="#000" fill-opacity="0.03"/>
<rect x="199.40" y="472.00" width="18" height="28.30" fill="#000" fill-opacity="0.03"/>
</g>
<g filter="url(#blur)">
<rect x="82.90" y="483.58" width="20.00" height="4.03" rx="1.21" fill="#000" fill-opacity="0.55"/>
<rect x="106.80" y="483.58" width="22.00" height="4.03" rx="1.21" fill="#000" fill-opacity="0.60"/>
<rect x="132.00" y="483.58" width="18.00" height="4.03" rx="1.21" fill="#000" fill-opacity="0.60"/>
<rect x="153.30" y="483.58" width="19.00" height="4.03" rx="1.21" fill="#000" fill-opacity="0.60"/>
<rect x="176.60" y="483.58" width="18.00" height="4.03" rx="1.21" fill="#000" fill-opacity="0.50"/>
<rect x="198.90" y="483.58" width="19.00" height="4.03" rx="1.21" fill="#000" fill-opacity="0.56"/>
</g></g>
<rect x="77.60" y="474.00" width="143.80" height="24.30" fill="none" stroke="#111" stroke-width="1.6"/>
<text transform="translate(71.00 492.60) scale(1 1.042)" font-size="13.6" text-anchor="end" font-weight="normal" font-family='"Liberation Sans", sans-serif' fill="#111" stroke="#111" stroke-width="0.25">β-actin</text>
<line x1="221.40" y1="480.30" x2="231.50" y2="480.30" stroke="#111" stroke-width="2.3"/>
<text transform="translate(235.00 485.60) scale(1 1.042)" font-size="11.4" text-anchor="start" font-weight="normal" font-family='"Liberation Sans", sans-serif' fill="#111" stroke="#111" stroke-width="0.25">50</text>
<line x1="81.10" y1="504.60" x2="147.70" y2="504.60" stroke="#111" stroke-width="1.2"/>
<line x1="152.40" y1="504.60" x2="219.80" y2="504.60" stroke="#111" stroke-width="1.2"/>
<text transform="translate(17.20 520.00) scale(1 1.042)" font-size="13.8" text-anchor="start" font-weight="normal" font-family='"Liberation Sans", sans-serif' fill="#111" stroke="#111" stroke-width="0.25">Irinotecan</text>
<text transform="translate(115.00 518.60) scale(1 1.042)" font-size="13.6" text-anchor="middle" font-weight="normal" font-family='"Liberation Sans", sans-serif' fill="#111" stroke="#111" stroke-width="0.25">–</text>
<text transform="translate(185.60 519.60) scale(1 1.042)" font-size="13.6" text-anchor="middle" font-weight="normal" font-family='"Liberation Sans", sans-serif' fill="#111" stroke="#111" stroke-width="0.25">+</text>
<text transform="translate(41.00 463.20) scale(1 1.042)" font-size="13.6" text-anchor="end" font-weight="normal" font-family='"Liberation Sans", sans-serif' fill="#111" stroke="#111" stroke-width="0.25">LC3</text>
<path d="M51.7 446.4 H46.8 V474.2 H51.7" fill="none" stroke="#111" stroke-width="1.3"/>
<text transform="translate(57.60 456.00) scale(1 1.042)" font-size="11.8" text-anchor="middle" font-weight="normal" font-family='"Liberation Sans", sans-serif' fill="#111" stroke="#111" stroke-width="0.25">I</text>
<text transform="translate(56.60 468.80) scale(1 1.042)" font-size="11.8" text-anchor="middle" font-weight="normal" font-family='"Liberation Sans", sans-serif' fill="#111" stroke="#111" stroke-width="0.25">II</text>
<line x1="62.80" y1="454.40" x2="68.40" y2="454.40" stroke="#111" stroke-width="1.5"/>
<path d="M67.2 451.70 L73.8 454.40 L67.2 457.10 Z" fill="#111"/>
<line x1="62.80" y1="465.30" x2="68.40" y2="465.30" stroke="#111" stroke-width="1.5"/>
<path d="M67.2 462.60 L73.8 465.30 L67.2 468.00 Z" fill="#111"/>
<line x1="343.70" y1="63.20" x2="343.70" y2="177.10" stroke="#111" stroke-width="1.6"/>
<line x1="337.20" y1="176.40" x2="593.00" y2="176.40" stroke="#111" stroke-width="1.7"/>
<line x1="337.20" y1="176.40" x2="343.70" y2="176.40" stroke="#111" stroke-width="1.6"/>
<text transform="translate(333.00 180.70) scale(1 1.042)" font-size="12" text-anchor="end" font-weight="normal" font-family='"Liberation Sans", sans-serif' fill="#111" stroke="#111" stroke-width="0.25">0</text>
<line x1="337.20" y1="148.20" x2="343.70" y2="148.20" stroke="#111" stroke-width="1.6"/>
<text transform="translate(333.00 152.50) scale(1 1.042)" font-size="12" text-anchor="end" font-weight="normal" font-family='"Liberation Sans", sans-serif' fill="#111" stroke="#111" stroke-width="0.25">1</text>
<line x1="337.20" y1="120.00" x2="343.70" y2="120.00" stroke="#111" stroke-width="1.6"/>
<text transform="translate(333.00 124.30) scale(1 1.042)" font-size="12" text-anchor="end" font-weight="normal" font-family='"Liberation Sans", sans-serif' fill="#111" stroke="#111" stroke-width="0.25">2</text>
<line x1="337.20" y1="91.80" x2="343.70" y2="91.80" stroke="#111" stroke-width="1.6"/>
<text transform="translate(333.00 96.10) scale(1 1.042)" font-size="12" text-anchor="end" font-weight="normal" font-family='"Liberation Sans", sans-serif' fill="#111" stroke="#111" stroke-width="0.25">3</text>
<line x1="337.20" y1="63.60" x2="343.70" y2="63.60" stroke="#111" stroke-width="1.6"/>
<text transform="translate(333.00 67.90) scale(1 1.042)" font-size="12" text-anchor="end" font-weight="normal" font-family='"Liberation Sans", sans-serif' fill="#111" stroke="#111" stroke-width="0.25">4</text>
<text transform="translate(300.60 119.10) rotate(-90) scale(1 1.042)" font-size="13.3" text-anchor="middle" font-weight="normal" font-family='"Liberation Sans", sans-serif' fill="#111" stroke="#111" stroke-width="0.25">Relative mRNA</text>
<text transform="translate(314.90 119.40) rotate(-90) scale(1 1.042)" font-size="13.3" text-anchor="middle" font-weight="normal" font-family='"Liberation Sans", sans-serif' fill="#111" stroke="#111" stroke-width="0.25">expression</text>
<line x1="353.95" y1="148.30" x2="353.95" y2="145.40" stroke="#111" stroke-width="1.2"/>
<line x1="351.35" y1="145.40" x2="356.55" y2="145.40" stroke="#111" stroke-width="1.3"/>
<rect x="349.55" y="148.30" width="8.80" height="28.10" fill="#ffffff" stroke="#2a2a2a" stroke-width="1.3"/>
<line x1="365.05" y1="131.90" x2="365.05" y2="130.30" stroke="#111" stroke-width="1.2"/>
<line x1="362.45" y1="130.30" x2="367.65" y2="130.30" stroke="#111" stroke-width="1.3"/>
<rect x="360.65" y="131.90" width="8.80" height="44.50" fill="#d5d5d5" stroke="#2a2a2a" stroke-width="1.3"/>
<line x1="376.35" y1="122.90" x2="376.35" y2="122.20" stroke="#111" stroke-width="1.2"/>
<line x1="373.75" y1="122.20" x2="378.95" y2="122.20" stroke="#111" stroke-width="1.3"/>
<rect x="371.95" y="122.90" width="8.80" height="53.50" fill="#8e8e8e" stroke="#2a2a2a" stroke-width="1.3"/>
<line x1="395.35" y1="148.40" x2="395.35" y2="145.90" stroke="#111" stroke-width="1.2"/>
<line x1="392.75" y1="145.90" x2="397.95" y2="145.90" stroke="#111" stroke-width="1.3"/>
<rect x="390.95" y="148.40" width="8.80" height="28.00" fill="#ffffff" stroke="#2a2a2a" stroke-width="1.3"/>
<line x1="406.45" y1="136.20" x2="406.45" y2="134.30" stroke="#111" stroke-width="1.2"/>
<line x1="403.85" y1="134.30" x2="409.05" y2="134.30" stroke="#111" stroke-width="1.3"/>
<rect x="402.05" y="136.20" width="8.80" height="40.20" fill="#d5d5d5" stroke="#2a2a2a" stroke-width="1.3"/>
<line x1="417.75" y1="126.30" x2="417.75" y2="121.20" stroke="#111" stroke-width="1.2"/>
<line x1="415.15" y1="121.20" x2="420.35" y2="121.20" stroke="#111" stroke-width="1.3"/>
<rect x="413.35" y="126.30" width="8.80" height="50.10" fill="#8e8e8e" stroke="#2a2a2a" stroke-width="1.3"/>
<line x1="436.75" y1="148.30" x2="436.75" y2="143.70" stroke="#111" stroke-width="1.2"/>
<line x1="434.15" y1="143.70" x2="439.35" y2="143.70" stroke="#111" stroke-width="1.3"/>
<rect x="432.35" y="148.30" width="8.80" height="28.10" fill="#ffffff" stroke="#2a2a2a" stroke-width="1.3"/>
<line x1="447.85" y1="135.50" x2="447.85" y2="131.20" stroke="#111" stroke-width="1.2"/>
<line x1="445.25" y1="131.20" x2="450.45" y2="131.20" stroke="#111" stroke-width="1.3"/>
<rect x="443.45" y="135.50" width="8.80" height="40.90" fill="#d5d5d5" stroke="#2a2a2a" stroke-width="1.3"/>
<line x1="459.15" y1="108.00" x2="459.15" y2="99.30" stroke="#111" stroke-width="1.2"/>
<line x1="456.55" y1="99.30" x2="461.75" y2="99.30" stroke="#111" stroke-width="1.3"/>
<rect x="454.75" y="108.00" width="8.80" height="68.40" fill="#8e8e8e" stroke="#2a2a2a" stroke-width="1.3"/>
<line x1="478.15" y1="130.40" x2="478.15" y2="129.30" stroke="#111" stroke-width="1.2"/>
<line x1="475.55" y1="129.30" x2="480.75" y2="129.30" stroke="#111" stroke-width="1.3"/>
<rect x="473.75" y="130.40" width="8.80" height="46.00" fill="#ffffff" stroke="#2a2a2a" stroke-width="1.3"/>
<line x1="489.25" y1="122.30" x2="489.25" y2="120.00" stroke="#111" stroke-width="1.2"/>
<line x1="486.65" y1="120.00" x2="491.85" y2="120.00" stroke="#111" stroke-width="1.3"/>
<rect x="484.85" y="122.30" width="8.80" height="54.10" fill="#d5d5d5" stroke="#2a2a2a" stroke-width="1.3"/>
<line x1="500.55" y1="98.40" x2="500.55" y2="87.70" stroke="#111" stroke-width="1.2"/>
<line x1="497.95" y1="87.70" x2="503.15" y2="87.70" stroke="#111" stroke-width="1.3"/>
<rect x="496.15" y="98.40" width="8.80" height="78.00" fill="#8e8e8e" stroke="#2a2a2a" stroke-width="1.3"/>
<line x1="519.55" y1="135.30" x2="519.55" y2="133.50" stroke="#111" stroke-width="1.2"/>
<line x1="516.95" y1="133.50" x2="522.15" y2="133.50" stroke="#111" stroke-width="1.3"/>
<rect x="515.15" y="135.30" width="8.80" height="41.10" fill="#ffffff" stroke="#2a2a2a" stroke-width="1.3"/>
<line x1="530.65" y1="123.20" x2="530.65" y2="120.30" stroke="#111" stroke-width="1.2"/>
<line x1="528.05" y1="120.30" x2="533.25" y2="120.30" stroke="#111" stroke-width="1.3"/>
<rect x="526.25" y="123.20" width="8.80" height="53.20" fill="#d5d5d5" stroke="#2a2a2a" stroke-width="1.3"/>
<line x1="541.95" y1="94.00" x2="541.95" y2="92.00" stroke="#111" stroke-width="1.2"/>
<line x1="539.35" y1="92.00" x2="544.55" y2="92.00" stroke="#111" stroke-width="1.3"/>
<rect x="537.55" y="94.00" width="8.80" height="82.40" fill="#8e8e8e" stroke="#2a2a2a" stroke-width="1.3"/>
<line x1="560.95" y1="140.50" x2="560.95" y2="138.20" stroke="#111" stroke-width="1.2"/>
<line x1="558.35" y1="138.20" x2="563.55" y2="138.20" stroke="#111" stroke-width="1.3"/>
<rect x="556.55" y="140.50" width="8.80" height="35.90" fill="#ffffff" stroke="#2a2a2a" stroke-width="1.3"/>
<line x1="572.05" y1="86.20" x2="572.05" y2="81.30" stroke="#111" stroke-width="1.2"/>
<line x1="569.45" y1="81.30" x2="574.65" y2="81.30" stroke="#111" stroke-width="1.3"/>
<rect x="567.65" y="86.20" width="8.80" height="90.20" fill="#d5d5d5" stroke="#2a2a2a" stroke-width="1.3"/>
<line x1="583.35" y1="75.30" x2="583.35" y2="69.50" stroke="#111" stroke-width="1.2"/>
<line x1="580.75" y1="69.50" x2="585.95" y2="69.50" stroke="#111" stroke-width="1.3"/>
<rect x="578.95" y="75.30" width="8.80" height="101.10" fill="#8e8e8e" stroke="#2a2a2a" stroke-width="1.3"/>
<line x1="337.20" y1="176.40" x2="593.00" y2="176.40" stroke="#111" stroke-width="1.7"/>
<path d="M351.30 125.20 V121.20 H365.60 V125.20" fill="none" stroke="#111" stroke-width="1.3" stroke-linejoin="round"/>
<text transform="translate(358.00 118.80)" font-size="10.5" text-anchor="middle" font-weight="normal" font-family='"Liberation Serif", serif' fill="#111" stroke="#111" stroke-width="0.25">#</text>
<path d="M351.30 110.40 V106.40 H375.80 V110.40" fill="none" stroke="#111" stroke-width="1.3" stroke-linejoin="round"/>
<text transform="translate(362.80 102.50)" font-size="9.2" text-anchor="middle" font-weight="normal" font-family='"Liberation Sans", sans-serif' fill="#111" stroke="#111" stroke-width="0.25">&amp;</text>
<path d="M391.25 128.75 V124.75 H407.50 V128.75" fill="none" stroke="#111" stroke-width="1.3" stroke-linejoin="round"/>
<text transform="translate(399.40 122.40)" font-size="10.5" text-anchor="middle" font-weight="normal" font-family='"Liberation Serif", serif' fill="#111" stroke="#111" stroke-width="0.25">#</text>
<path d="M391.25 112.50 V108.50 H417.75 V112.50" fill="none" stroke="#111" stroke-width="1.3" stroke-linejoin="round"/>
<text transform="translate(403.90 106.10)" font-size="10.5" text-anchor="middle" font-weight="normal" font-family='"Liberation Serif", serif' fill="#111" stroke="#111" stroke-width="0.25">#</text>
<path d="M433.10 124.40 V120.40 H447.50 V124.40" fill="none" stroke="#111" stroke-width="1.3" stroke-linejoin="round"/>
<text transform="translate(440.20 121.00)" font-size="11.5" text-anchor="middle" font-weight="normal" font-family='"Liberation Sans", sans-serif' fill="#111" stroke="#111" stroke-width="0.25">*</text>
<path d="M433.10 94.25 V90.25 H457.90 V94.25" fill="none" stroke="#111" stroke-width="1.3" stroke-linejoin="round"/>
<text transform="translate(445.40 87.60)" font-size="10.5" text-anchor="middle" font-weight="normal" font-family='"Liberation Serif", serif' fill="#111" stroke="#111" stroke-width="0.25">#</text>
<path d="M474.80 111.90 V107.90 H490.10 V111.90" fill="none" stroke="#111" stroke-width="1.3" stroke-linejoin="round"/>
<text transform="translate(482.00 109.40)" font-size="11.5" text-anchor="middle" font-weight="normal" font-family='"Liberation Sans", sans-serif' fill="#111" stroke="#111" stroke-width="0.25">*</text>
<path d="M474.80 83.00 V79.00 H500.80 V83.00" fill="none" stroke="#111" stroke-width="1.3" stroke-linejoin="round"/>
<text transform="translate(487.20 76.70)" font-size="10.5" text-anchor="middle" font-weight="normal" font-family='"Liberation Serif", serif' fill="#111" stroke="#111" stroke-width="0.25">#</text>
<path d="M515.80 116.20 V112.20 H530.50 V116.20" fill="none" stroke="#111" stroke-width="1.3" stroke-linejoin="round"/>
<text transform="translate(523.30 112.20)" font-size="11.5" text-anchor="middle" font-weight="normal" font-family='"Liberation Sans", sans-serif' fill="#111" stroke="#111" stroke-width="0.25">*</text>
<path d="M515.80 86.80 V82.80 H541.10 V86.80" fill="none" stroke="#111" stroke-width="1.3" stroke-linejoin="round"/>
<text transform="translate(527.30 77.40)" font-size="9.8" text-anchor="middle" font-weight="normal" font-family='"Liberation Serif", serif' fill="#111" stroke="#111" stroke-width="0.25">¶</text>
<path d="M557.00 75.20 V71.20 H570.90 V75.20" fill="none" stroke="#111" stroke-width="1.3" stroke-linejoin="round"/>
<text transform="translate(563.40 69.10)" font-size="9.2" text-anchor="middle" font-weight="normal" font-family='"Liberation Sans", sans-serif' fill="#111" stroke="#111" stroke-width="0.25">&amp;</text>
<path d="M557.00 60.50 V56.50 H581.50 V60.50" fill="none" stroke="#111" stroke-width="1.3" stroke-linejoin="round"/>
<text transform="translate(568.50 53.90)" font-size="9.2" text-anchor="middle" font-weight="normal" font-family='"Liberation Sans", sans-serif' fill="#111" stroke="#111" stroke-width="0.25">&amp;</text>
<text transform="translate(371.60 188.10) rotate(-36) scale(1 1.042)" font-size="12.5" text-anchor="end" font-weight="normal" font-family='"Liberation Sans", sans-serif' fill="#111" stroke="#111" stroke-width="0.25">ATG12</text>
<text transform="translate(413.00 188.10) rotate(-36) scale(1 1.042)" font-size="12.5" text-anchor="end" font-weight="normal" font-family='"Liberation Sans", sans-serif' fill="#111" stroke="#111" stroke-width="0.25">LC3B</text>
<text transform="translate(454.40 188.10) rotate(-36) scale(1 1.042)" font-size="12.5" text-anchor="end" font-weight="normal" font-family='"Liberation Sans", sans-serif' fill="#111" stroke="#111" stroke-width="0.25">BECN1</text>
<text transform="translate(495.80 188.10) rotate(-36) scale(1 1.042)" font-size="12.5" text-anchor="end" font-weight="normal" font-family='"Liberation Sans", sans-serif' fill="#111" stroke="#111" stroke-width="0.25">ATG12</text>
<text transform="translate(537.20 188.10) rotate(-36) scale(1 1.042)" font-size="12.5" text-anchor="end" font-weight="normal" font-family='"Liberation Sans", sans-serif' fill="#111" stroke="#111" stroke-width="0.25">LC3B</text>
<text transform="translate(578.60 188.10) rotate(-36) scale(1 1.042)" font-size="12.5" text-anchor="end" font-weight="normal" font-family='"Liberation Sans", sans-serif' fill="#111" stroke="#111" stroke-width="0.25">BECN1</text>
<text transform="translate(274.00 34.90) scale(1 1.042)" font-size="13.8" text-anchor="start" font-weight="normal" font-family='"Liberation Sans", sans-serif' fill="#111" stroke="#111" stroke-width="0.25">Tunicamycin</text>
<path d="M346.80 44.40 V41.60 H462.20 V44.40" fill="none" stroke="#111" stroke-width="1.2" stroke-linejoin="round"/>
<path d="M471.70 44.60 V41.80 H587.40 V44.60" fill="none" stroke="#111" stroke-width="1.2" stroke-linejoin="round"/>
<text transform="translate(404.90 34.60) scale(1 1.042)" font-size="13.3" text-anchor="middle" font-weight="normal" font-family='"Liberation Sans", sans-serif' fill="#111" stroke="#111" stroke-width="0.25">–</text>
<text transform="translate(528.60 35.20) scale(1 1.042)" font-size="13.3" text-anchor="middle" font-weight="normal" font-family='"Liberation Sans", sans-serif' fill="#111" stroke="#111" stroke-width="0.25">+</text>
<rect x="598.70" y="79.30" width="7.20" height="7.00" fill="#ffffff" stroke="#222" stroke-width="1.1"/>
<text transform="translate(612.20 86.90) scale(1 1.042)" font-size="13.6" text-anchor="start" font-weight="normal" font-family='"Liberation Sans", sans-serif' fill="#111" stroke="#111" stroke-width="0.25">Sh-Control</text>
<rect x="598.70" y="95.40" width="7.20" height="7.00" fill="#d5d5d5" stroke="#222" stroke-width="1.1"/>
<text transform="translate(612.20 103.00) scale(1 1.042)" font-size="13.6" text-anchor="start" font-weight="normal" font-family='"Liberation Sans", sans-serif' fill="#111" stroke="#111" stroke-width="0.25">Sh-PHLPP1</text>
<rect x="598.70" y="111.50" width="7.20" height="7.00" fill="#8e8e8e" stroke="#222" stroke-width="1.1"/>
<text transform="translate(612.20 119.10) scale(1 1.042)" font-size="13.6" text-anchor="start" font-weight="normal" font-family='"Liberation Sans", sans-serif' fill="#111" stroke="#111" stroke-width="0.25">Sh-PHLPP2</text>
<text transform="translate(282.20 11.90)" font-size="15.5" text-anchor="start" font-weight="bold" font-family='"Liberation Sans", sans-serif' fill="#111" stroke="#111" stroke-width="0.25">B</text>
<line x1="341.30" y1="343.30" x2="341.30" y2="456.50" stroke="#111" stroke-width="1.6"/>
<line x1="335.00" y1="455.80" x2="590.20" y2="455.80" stroke="#111" stroke-width="1.7"/>
<line x1="335.00" y1="455.80" x2="341.30" y2="455.80" stroke="#111" stroke-width="1.6"/>
<text transform="translate(330.80 460.10) scale(1 1.042)" font-size="12" text-anchor="end" font-weight="normal" font-family='"Liberation Sans", sans-serif' fill="#111" stroke="#111" stroke-width="0.25">0</text>
<line x1="335.00" y1="427.80" x2="341.30" y2="427.80" stroke="#111" stroke-width="1.6"/>
<text transform="translate(330.80 432.10) scale(1 1.042)" font-size="12" text-anchor="end" font-weight="normal" font-family='"Liberation Sans", sans-serif' fill="#111" stroke="#111" stroke-width="0.25">1</text>
<line x1="335.00" y1="399.80" x2="341.30" y2="399.80" stroke="#111" stroke-width="1.6"/>
<text transform="translate(330.80 404.10) scale(1 1.042)" font-size="12" text-anchor="end" font-weight="normal" font-family='"Liberation Sans", sans-serif' fill="#111" stroke="#111" stroke-width="0.25">2</text>
<line x1="335.00" y1="371.80" x2="341.30" y2="371.80" stroke="#111" stroke-width="1.6"/>
<text transform="translate(330.80 376.10) scale(1 1.042)" font-size="12" text-anchor="end" font-weight="normal" font-family='"Liberation Sans", sans-serif' fill="#111" stroke="#111" stroke-width="0.25">3</text>
<line x1="335.00" y1="343.80" x2="341.30" y2="343.80" stroke="#111" stroke-width="1.6"/>
<text transform="translate(330.80 348.10) scale(1 1.042)" font-size="12" text-anchor="end" font-weight="normal" font-family='"Liberation Sans", sans-serif' fill="#111" stroke="#111" stroke-width="0.25">4</text>
<text transform="translate(298.80 398.80) rotate(-90) scale(1 1.042)" font-size="13.3" text-anchor="middle" font-weight="normal" font-family='"Liberation Sans", sans-serif' fill="#111" stroke="#111" stroke-width="0.25">Relative mRNA</text>
<text transform="translate(312.70 400.00) rotate(-90) scale(1 1.042)" font-size="13.3" text-anchor="middle" font-weight="normal" font-family='"Liberation Sans", sans-serif' fill="#111" stroke="#111" stroke-width="0.25">expression</text>
<line x1="350.95" y1="428.30" x2="350.95" y2="425.80" stroke="#111" stroke-width="1.2"/>
<line x1="348.35" y1="425.80" x2="353.55" y2="425.80" stroke="#111" stroke-width="1.3"/>
<rect x="346.55" y="428.30" width="8.80" height="27.50" fill="#ffffff" stroke="#2a2a2a" stroke-width="1.3"/>
<line x1="362.05" y1="413.30" x2="362.05" y2="408.30" stroke="#111" stroke-width="1.2"/>
<line x1="359.45" y1="408.30" x2="364.65" y2="408.30" stroke="#111" stroke-width="1.3"/>
<rect x="357.65" y="413.30" width="8.80" height="42.50" fill="#d5d5d5" stroke="#2a2a2a" stroke-width="1.3"/>
<line x1="373.05" y1="378.30" x2="373.05" y2="371.30" stroke="#111" stroke-width="1.2"/>
<line x1="370.45" y1="371.30" x2="375.65" y2="371.30" stroke="#111" stroke-width="1.3"/>
<rect x="368.65" y="378.30" width="8.80" height="77.50" fill="#8e8e8e" stroke="#2a2a2a" stroke-width="1.3"/>
<line x1="392.25" y1="428.20" x2="392.25" y2="426.90" stroke="#111" stroke-width="1.2"/>
<line x1="389.65" y1="426.90" x2="394.85" y2="426.90" stroke="#111" stroke-width="1.3"/>
<rect x="387.85" y="428.20" width="8.80" height="27.60" fill="#ffffff" stroke="#2a2a2a" stroke-width="1.3"/>
<line x1="403.35" y1="421.70" x2="403.35" y2="418.20" stroke="#111" stroke-width="1.2"/>
<line x1="400.75" y1="418.20" x2="405.95" y2="418.20" stroke="#111" stroke-width="1.3"/>
<rect x="398.95" y="421.70" width="8.80" height="34.10" fill="#d5d5d5" stroke="#2a2a2a" stroke-width="1.3"/>
<line x1="414.35" y1="402.10" x2="414.35" y2="396.70" stroke="#111" stroke-width="1.2"/>
<line x1="411.75" y1="396.70" x2="416.95" y2="396.70" stroke="#111" stroke-width="1.3"/>
<rect x="409.95" y="402.10" width="8.80" height="53.70" fill="#8e8e8e" stroke="#2a2a2a" stroke-width="1.3"/>
<line x1="433.55" y1="428.20" x2="433.55" y2="423.10" stroke="#111" stroke-width="1.2"/>
<line x1="430.95" y1="423.10" x2="436.15" y2="423.10" stroke="#111" stroke-width="1.3"/>
<rect x="429.15" y="428.20" width="8.80" height="27.60" fill="#ffffff" stroke="#2a2a2a" stroke-width="1.3"/>
<line x1="444.65" y1="417.40" x2="444.65" y2="414.20" stroke="#111" stroke-width="1.2"/>
<line x1="442.05" y1="414.20" x2="447.25" y2="414.20" stroke="#111" stroke-width="1.3"/>
<rect x="440.25" y="417.40" width="8.80" height="38.40" fill="#d5d5d5" stroke="#2a2a2a" stroke-width="1.3"/>
<line x1="455.65" y1="387.30" x2="455.65" y2="378.70" stroke="#111" stroke-width="1.2"/>
<line x1="453.05" y1="378.70" x2="458.25" y2="378.70" stroke="#111" stroke-width="1.3"/>
<rect x="451.25" y="387.30" width="8.80" height="68.50" fill="#8e8e8e" stroke="#2a2a2a" stroke-width="1.3"/>
<line x1="474.85" y1="416.10" x2="474.85" y2="414.20" stroke="#111" stroke-width="1.2"/>
<line x1="472.25" y1="414.20" x2="477.45" y2="414.20" stroke="#111" stroke-width="1.3"/>
<rect x="470.45" y="416.10" width="8.80" height="39.70" fill="#ffffff" stroke="#2a2a2a" stroke-width="1.3"/>
<line x1="485.95" y1="365.80" x2="485.95" y2="364.70" stroke="#111" stroke-width="1.2"/>
<line x1="483.35" y1="364.70" x2="488.55" y2="364.70" stroke="#111" stroke-width="1.3"/>
<rect x="481.55" y="365.80" width="8.80" height="90.00" fill="#d5d5d5" stroke="#2a2a2a" stroke-width="1.3"/>
<line x1="496.95" y1="358.50" x2="496.95" y2="355.80" stroke="#111" stroke-width="1.2"/>
<line x1="494.35" y1="355.80" x2="499.55" y2="355.80" stroke="#111" stroke-width="1.3"/>
<rect x="492.55" y="358.50" width="8.80" height="97.30" fill="#8e8e8e" stroke="#2a2a2a" stroke-width="1.3"/>
<line x1="516.15" y1="421.60" x2="516.15" y2="419.20" stroke="#111" stroke-width="1.2"/>
<line x1="513.55" y1="419.20" x2="518.75" y2="419.20" stroke="#111" stroke-width="1.3"/>
<rect x="511.75" y="421.60" width="8.80" height="34.20" fill="#ffffff" stroke="#2a2a2a" stroke-width="1.3"/>
<line x1="527.25" y1="389.40" x2="527.25" y2="384.20" stroke="#111" stroke-width="1.2"/>
<line x1="524.65" y1="384.20" x2="529.85" y2="384.20" stroke="#111" stroke-width="1.3"/>
<rect x="522.85" y="389.40" width="8.80" height="66.40" fill="#d5d5d5" stroke="#2a2a2a" stroke-width="1.3"/>
<line x1="538.25" y1="380.00" x2="538.25" y2="379.00" stroke="#111" stroke-width="1.2"/>
<line x1="535.65" y1="379.00" x2="540.85" y2="379.00" stroke="#111" stroke-width="1.3"/>
<rect x="533.85" y="380.00" width="8.80" height="75.80" fill="#8e8e8e" stroke="#2a2a2a" stroke-width="1.3"/>
<line x1="557.45" y1="420.50" x2="557.45" y2="418.10" stroke="#111" stroke-width="1.2"/>
<line x1="554.85" y1="418.10" x2="560.05" y2="418.10" stroke="#111" stroke-width="1.3"/>
<rect x="553.05" y="420.50" width="8.80" height="35.30" fill="#ffffff" stroke="#2a2a2a" stroke-width="1.3"/>
<line x1="568.55" y1="355.10" x2="568.55" y2="350.60" stroke="#111" stroke-width="1.2"/>
<line x1="565.95" y1="350.60" x2="571.15" y2="350.60" stroke="#111" stroke-width="1.3"/>
<rect x="564.15" y="355.10" width="8.80" height="100.70" fill="#d5d5d5" stroke="#2a2a2a" stroke-width="1.3"/>
<line x1="579.55" y1="355.10" x2="579.55" y2="349.60" stroke="#111" stroke-width="1.2"/>
<line x1="576.95" y1="349.60" x2="582.15" y2="349.60" stroke="#111" stroke-width="1.3"/>
<rect x="575.15" y="355.10" width="8.80" height="100.70" fill="#8e8e8e" stroke="#2a2a2a" stroke-width="1.3"/>
<line x1="335.00" y1="455.80" x2="590.20" y2="455.80" stroke="#111" stroke-width="1.7"/>
<path d="M349.50 401.00 V397.00 H363.75 V401.00" fill="none" stroke="#111" stroke-width="1.3" stroke-linejoin="round"/>
<text transform="translate(355.00 396.55)" font-size="11.5" text-anchor="middle" font-weight="normal" font-family='"Liberation Sans", sans-serif' fill="#111" stroke="#111" stroke-width="0.25">*</text>
<path d="M349.50 366.50 V362.50 H373.75 V366.50" fill="none" stroke="#111" stroke-width="1.3" stroke-linejoin="round"/>
<text transform="translate(360.50 358.85)" font-size="9.2" text-anchor="middle" font-weight="normal" font-family='"Liberation Sans", sans-serif' fill="#111" stroke="#111" stroke-width="0.25">&amp;</text>
<path d="M389.40 411.50 V407.50 H404.20 V411.50" fill="none" stroke="#111" stroke-width="1.3" stroke-linejoin="round"/>
<text transform="translate(396.10 406.60)" font-size="11.5" text-anchor="middle" font-weight="normal" font-family='"Liberation Sans", sans-serif' fill="#111" stroke="#111" stroke-width="0.25">*</text>
<path d="M389.40 388.60 V384.60 H415.20 V388.60" fill="none" stroke="#111" stroke-width="1.3" stroke-linejoin="round"/>
<text transform="translate(401.80 382.10)" font-size="10.5" text-anchor="middle" font-weight="normal" font-family='"Liberation Serif", serif' fill="#111" stroke="#111" stroke-width="0.25">#</text>
<path d="M431.40 407.40 V403.40 H445.40 V407.40" fill="none" stroke="#111" stroke-width="1.3" stroke-linejoin="round"/>
<text transform="translate(438.60 403.90)" font-size="11.5" text-anchor="middle" font-weight="normal" font-family='"Liberation Sans", sans-serif' fill="#111" stroke="#111" stroke-width="0.25">*</text>
<path d="M431.40 373.80 V369.80 H456.10 V373.80" fill="none" stroke="#111" stroke-width="1.3" stroke-linejoin="round"/>
<text transform="translate(442.70 367.30)" font-size="10.5" text-anchor="middle" font-weight="normal" font-family='"Liberation Serif", serif' fill="#111" stroke="#111" stroke-width="0.25">#</text>
<path d="M472.80 361.70 V357.70 H487.10 V361.70" fill="none" stroke="#111" stroke-width="1.3" stroke-linejoin="round"/>
<text transform="translate(480.40 353.20)" font-size="9.8" text-anchor="middle" font-weight="normal" font-family='"Liberation Serif", serif' fill="#111" stroke="#111" stroke-width="0.25">¶</text>
<path d="M472.80 345.00 V341.00 H498.70 V345.00" fill="none" stroke="#111" stroke-width="1.3" stroke-linejoin="round"/>
<text transform="translate(485.20 334.90)" font-size="9.8" text-anchor="middle" font-weight="normal" font-family='"Liberation Serif", serif' fill="#111" stroke="#111" stroke-width="0.25">¶</text>
<path d="M513.60 380.60 V376.60 H528.50 V380.60" fill="none" stroke="#111" stroke-width="1.3" stroke-linejoin="round"/>
<text transform="translate(520.50 373.00)" font-size="10.5" text-anchor="middle" font-weight="normal" font-family='"Liberation Serif", serif' fill="#111" stroke="#111" stroke-width="0.25">#</text>
<path d="M513.60 358.40 V354.40 H538.90 V358.40" fill="none" stroke="#111" stroke-width="1.3" stroke-linejoin="round"/>
<text transform="translate(525.00 350.00)" font-size="9.8" text-anchor="middle" font-weight="normal" font-family='"Liberation Serif", serif' fill="#111" stroke="#111" stroke-width="0.25">¶</text>
<path d="M555.10 347.70 V343.70 H570.00 V347.70" fill="none" stroke="#111" stroke-width="1.3" stroke-linejoin="round"/>
<text transform="translate(561.40 341.60)" font-size="9.2" text-anchor="middle" font-weight="normal" font-family='"Liberation Sans", sans-serif' fill="#111" stroke="#111" stroke-width="0.25">&amp;</text>
<path d="M555.10 334.20 V330.20 H580.40 V334.20" fill="none" stroke="#111" stroke-width="1.3" stroke-linejoin="round"/>
<text transform="translate(567.30 326.00)" font-size="9.2" text-anchor="middle" font-weight="normal" font-family='"Liberation Sans", sans-serif' fill="#111" stroke="#111" stroke-width="0.25">&amp;</text>
<text transform="translate(368.60 469.30) rotate(-36) scale(1 1.042)" font-size="12.5" text-anchor="end" font-weight="normal" font-family='"Liberation Sans", sans-serif' fill="#111" stroke="#111" stroke-width="0.25">ATG12</text>
<text transform="translate(409.90 469.30) rotate(-36) scale(1 1.042)" font-size="12.5" text-anchor="end" font-weight="normal" font-family='"Liberation Sans", sans-serif' fill="#111" stroke="#111" stroke-width="0.25">LC3B</text>
<text transform="translate(451.20 469.30) rotate(-36) scale(1 1.042)" font-size="12.5" text-anchor="end" font-weight="normal" font-family='"Liberation Sans", sans-serif' fill="#111" stroke="#111" stroke-width="0.25">BECN1</text>
<text transform="translate(492.50 469.30) rotate(-36) scale(1 1.042)" font-size="12.5" text-anchor="end" font-weight="normal" font-family='"Liberation Sans", sans-serif' fill="#111" stroke="#111" stroke-width="0.25">ATG12</text>
<text transform="translate(533.80 469.30) rotate(-36) scale(1 1.042)" font-size="12.5" text-anchor="end" font-weight="normal" font-family='"Liberation Sans", sans-serif' fill="#111" stroke="#111" stroke-width="0.25">LC3B</text>
<text transform="translate(575.10 469.30) rotate(-36) scale(1 1.042)" font-size="12.5" text-anchor="end" font-weight="normal" font-family='"Liberation Sans", sans-serif' fill="#111" stroke="#111" stroke-width="0.25">BECN1</text>
<text transform="translate(280.50 308.20) scale(1 1.042)" font-size="13.8" text-anchor="start" font-weight="normal" font-family='"Liberation Sans", sans-serif' fill="#111" stroke="#111" stroke-width="0.25">Irinotecan</text>
<path d="M343.40 317.10 V314.30 H459.90 V317.10" fill="none" stroke="#111" stroke-width="1.2" stroke-linejoin="round"/>
<path d="M468.50 317.00 V314.20 H584.60 V317.00" fill="none" stroke="#111" stroke-width="1.2" stroke-linejoin="round"/>
<text transform="translate(401.50 308.20) scale(1 1.042)" font-size="13.3" text-anchor="middle" font-weight="normal" font-family='"Liberation Sans", sans-serif' fill="#111" stroke="#111" stroke-width="0.25">–</text>
<text transform="translate(526.00 308.60) scale(1 1.042)" font-size="13.3" text-anchor="middle" font-weight="normal" font-family='"Liberation Sans", sans-serif' fill="#111" stroke="#111" stroke-width="0.25">+</text>
<rect x="595.70" y="362.10" width="7.20" height="7.00" fill="#ffffff" stroke="#222" stroke-width="1.1"/>
<text transform="translate(609.20 369.70) scale(1 1.042)" font-size="13.6" text-anchor="start" font-weight="normal" font-family='"Liberation Sans", sans-serif' fill="#111" stroke="#111" stroke-width="0.25">Sh-Control</text>
<rect x="595.70" y="378.55" width="7.20" height="7.00" fill="#d5d5d5" stroke="#222" stroke-width="1.1"/>
<text transform="translate(609.20 386.15) scale(1 1.042)" font-size="13.6" text-anchor="start" font-weight="normal" font-family='"Liberation Sans", sans-serif' fill="#111" stroke="#111" stroke-width="0.25">Sh-PHLPP1</text>
<rect x="595.70" y="395.00" width="7.20" height="7.00" fill="#8e8e8e" stroke="#222" stroke-width="1.1"/>
<text transform="translate(609.20 402.60) scale(1 1.042)" font-size="13.6" text-anchor="start" font-weight="normal" font-family='"Liberation Sans", sans-serif' fill="#111" stroke="#111" stroke-width="0.25">Sh-PHLPP2</text>
<text transform="translate(280.40 283.70)" font-size="15.5" text-anchor="start" font-weight="bold" font-family='"Liberation Sans", sans-serif' fill="#111" stroke="#111" stroke-width="0.25">D</text>
</svg></body></html>
